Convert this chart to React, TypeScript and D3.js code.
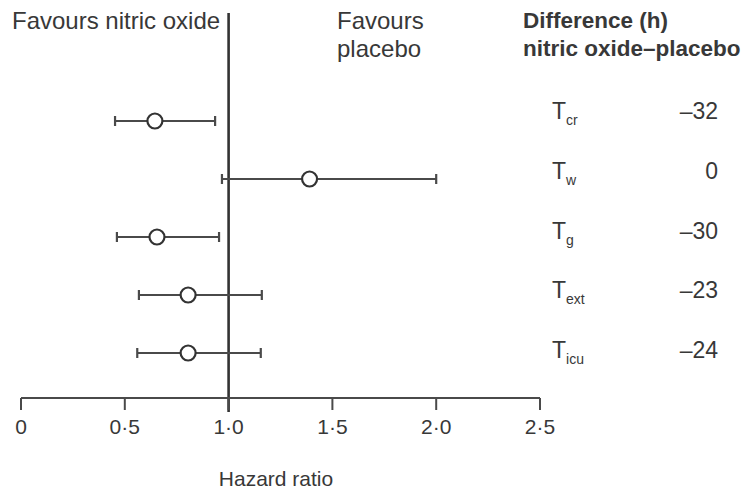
import React from "react";
import * as d3 from "d3";

const categories = ["cr", "w", "g", "ext", "icu"];
const hazardRatio = [0.645, 1.39, 0.655, 0.805, 0.805];
const lowerCI = [0.453, 0.968, 0.462, 0.568, 0.56];
const upperCI = [0.935, 2.0, 0.954, 1.16, 1.155];
const differences = ["–32", "0", "–30", "–23", "–24"];
const tickValues = [0, 0.5, 1.0, 1.5, 2.0, 2.5];
const tickLabels = ["0", "0·5", "1·0", "1·5", "2·0", "2·5"];

const W = 746;
const H = 493;
const FONT = "'Liberation Sans', Arial, Helvetica, sans-serif";
const TEXT = "#383838";
const LINE = "#4a4a4a";

export default function App() {
  const x = d3.scaleLinear().domain([0, 2.5]).range([21, 540]);
  const y = d3.scalePoint<string>().domain(categories).range([121, 353]);
  const yLabel = d3.scalePoint<string>().domain(categories).range([119, 358]);
  const axisY = 398;

  return (
    <svg
      width={W}
      height={H}
      style={{ position: "absolute", left: 0, top: 0, background: "#fff" }}
      fontFamily={FONT}
    >
      <rect width={W} height={H} fill="#fff" />
      {/* header texts */}
      <text x={12} y={29} fontSize={24} fill={TEXT}>Favours nitric oxide</text>
      <text x={337} y={29} fontSize={24} fill={TEXT}>Favours</text>
      <text x={337} y={57} fontSize={24} fill={TEXT}>placebo</text>
      <text x={523} y={28} fontSize={22.5} fontWeight="bold" fill={TEXT}>Difference (h)</text>
      <text x={523} y={56} fontSize={22.5} fontWeight="bold" fill={TEXT}>nitric oxide–placebo</text>

      {/* reference line at HR = 1 */}
      <line x1={x(1)} x2={x(1)} y1={13} y2={axisY + 14} stroke="#333" strokeWidth={2.6} />

      {/* axis */}
      <line x1={x(0)} x2={x(2.5)} y1={axisY} y2={axisY} stroke={LINE} strokeWidth={2} />
      {tickValues.map((t, i) => (
        <g key={t}>
          <line x1={x(t)} x2={x(t)} y1={axisY} y2={axisY + 12} stroke={LINE} strokeWidth={2} />
          <text x={x(t)} y={axisY + 36} fontSize={21} textAnchor="middle" fill={TEXT}>
            {tickLabels[i]}
          </text>
        </g>
      ))}
      <text x={276} y={486} fontSize={21} textAnchor="middle" fill={TEXT}>Hazard ratio</text>

      {/* forest rows */}
      {categories.map((c, i) => {
        const cy = y(c) as number;
        return (
          <g key={c}>
            <line x1={x(lowerCI[i])} x2={x(upperCI[i])} y1={cy} y2={cy} stroke={LINE} strokeWidth={2} />
            <line x1={x(lowerCI[i])} x2={x(lowerCI[i])} y1={cy - 5} y2={cy + 5} stroke={LINE} strokeWidth={2.2} />
            <line x1={x(upperCI[i])} x2={x(upperCI[i])} y1={cy - 5} y2={cy + 5} stroke={LINE} strokeWidth={2.2} />
            <circle cx={x(hazardRatio[i])} cy={cy} r={7.5} fill="#fff" stroke="#333" strokeWidth={2.2} />
          </g>
        );
      })}

      {/* right labels */}
      {categories.map((c, i) => {
        const ly = yLabel(c) as number;
        return (
          <g key={"l" + c}>
            <text x={552} y={ly} fontSize={23} fill={TEXT}>
              T
              <tspan fontSize={14} dy={6}>{c}</tspan>
            </text>
            <text x={718} y={ly} fontSize={23} textAnchor="end" fill={TEXT}>
              {differences[i]}
            </text>
          </g>
        );
      })}
    </svg>
  );
}
